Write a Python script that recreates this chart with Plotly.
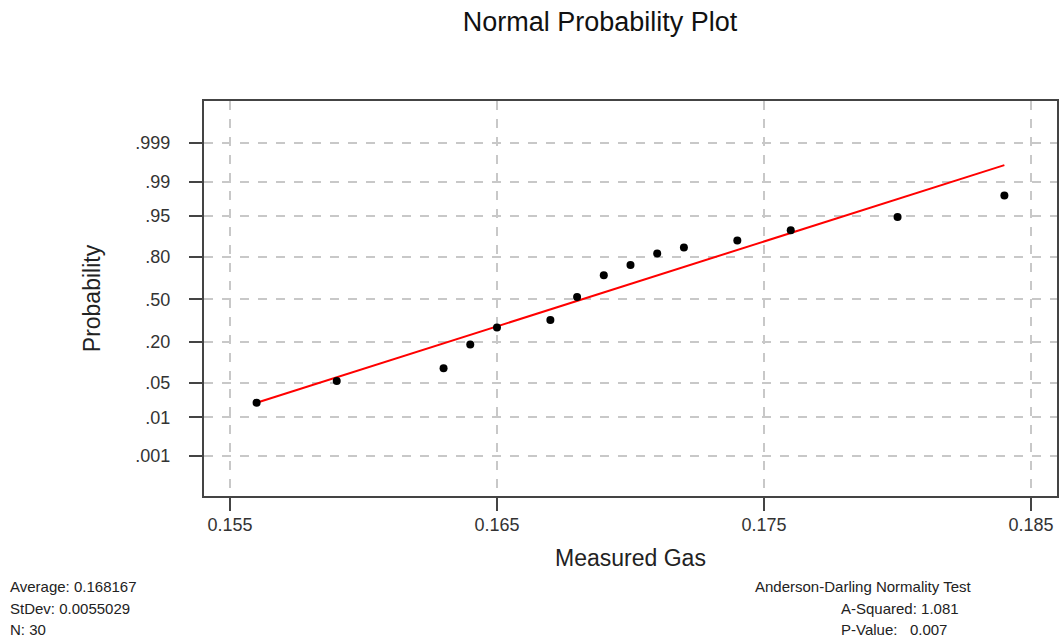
import plotly.graph_objects as go
from statistics import NormalDist

# ---- data ----
gas_values = [0.156, 0.159, 0.163, 0.164, 0.165, 0.167, 0.168, 0.169,
              0.170, 0.171, 0.172, 0.174, 0.176, 0.180, 0.184]
cum_prob = [0.0207, 0.0536, 0.087, 0.187, 0.290, 0.342, 0.520, 0.684,
            0.752, 0.818, 0.847, 0.878, 0.914, 0.948, 0.980]
fit_x = [0.156, 0.184]
fit_prob = [0.0207, 0.996]
prob_ticks = [0.001, 0.01, 0.05, 0.20, 0.50, 0.80, 0.95, 0.99, 0.999]
prob_labels = [".001", ".01", ".05", ".20", ".50", ".80", ".95", ".99", ".999"]
x_ticks = [0.155, 0.165, 0.175, 0.185]
x_labels = ["0.155", "0.165", "0.175", "0.185"]
stats_left = ["Average: 0.168167", "StDev: 0.0055029", "N: 30"]
stats_right = ["Anderson-Darling Normality Test", "A-Squared: 1.081",
               "P-Value:   0.007"]

nd = NormalDist()
z = lambda p: nd.inv_cdf(p)

FONT = "Liberation Sans, Arial, sans-serif"
W, H = 1061, 639
L, T, R = 203.5, 100.7, 2
B = H - 496

fig = go.Figure()
fig.add_trace(go.Scatter(
    x=fit_x, y=[z(p) for p in fit_prob], mode="lines",
    line=dict(color="#ff0000", width=2), hoverinfo="skip", showlegend=False))
fig.add_trace(go.Scatter(
    x=gas_values, y=[z(p) for p in cum_prob], mode="markers",
    marker=dict(color="black", size=8), showlegend=False,
    customdata=cum_prob,
    hovertemplate="%{x}<br>%{customdata}<extra></extra>"))

axis_common = dict(
    showline=True, linecolor="#444444", linewidth=2, mirror=True,
    showgrid=True, gridcolor="#c8c8c8", gridwidth=1.5, griddash="dash",
    zeroline=False, ticks="outside", ticklen=13, tickwidth=2,
    tickcolor="#444444",
    tickfont=dict(family=FONT, size=18, color="#333333"),
)

fig.update_xaxes(
    range=[0.15403, 0.18597], tickvals=x_ticks, ticktext=x_labels,
    ticklabelstandoff=-2,
    title=dict(text="Measured Gas", font=dict(family=FONT, size=23, color="#222222"),
               standoff=16),
    **axis_common)
fig.update_yaxes(
    range=[-3.88, 3.917], tickvals=[z(p) for p in prob_ticks],
    ticktext=prob_labels, ticklabelstandoff=15,
    title=dict(text="Probability", font=dict(family=FONT, size=23, color="#222222"),
               standoff=28),
    **axis_common)

row_y = [587, 609, 630]  # page pixels
annotations = []
for i, txt in enumerate(stats_left):
    annotations.append(dict(
        text=txt, xref="paper", yref="paper", showarrow=False,
        x=-(L - 7) / (W - L - R), xanchor="left",
        y=-(row_y[i] - (H - B)) / (H - T - B), yanchor="middle",
        font=dict(family=FONT, size=15, color="#222222")))
right_x = [754, 840, 840]
for i, txt in enumerate(stats_right):
    annotations.append(dict(
        text=txt, xref="paper", yref="paper", showarrow=False,
        x=(right_x[i] - L) / (W - L - R), xanchor="left",
        y=-(row_y[i] - (H - B)) / (H - T - B), yanchor="middle",
        font=dict(family=FONT, size=15, color="#222222")))

fig.update_layout(
    width=W, height=H,
    margin=dict(l=L, r=R, t=T, b=B),
    paper_bgcolor="white", plot_bgcolor="white",
    title=dict(text="Normal Probability Plot", x=600 / W, xanchor="center",
               y=1 - 22 / H, yanchor="middle", yref="container",
               font=dict(family=FONT, size=27, color="#111111")),
    annotations=annotations,
)

fig.write_html(
    "out.html",
    config={"displayModeBar": False},
    post_script="document.body.style.margin='0px';"
                "document.body.style.overflow='hidden';",
)
